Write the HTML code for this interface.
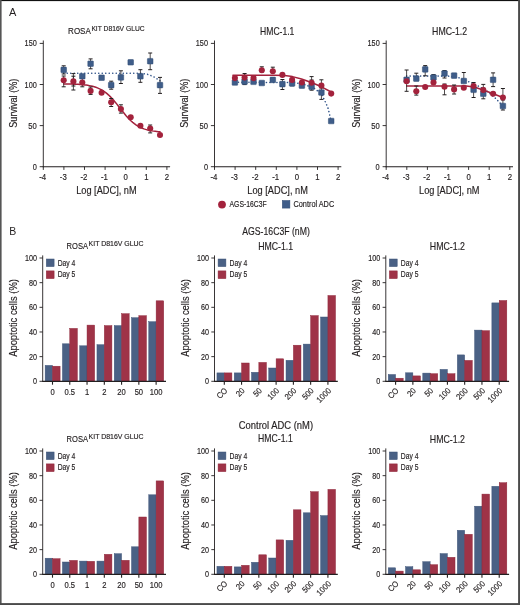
<!DOCTYPE html>
<html><head><meta charset="utf-8"><style>
html,body{margin:0;padding:0;background:#fff;}
svg{display:block;font-family:"Liberation Sans", sans-serif;will-change:transform;}
</style></head><body>
<svg width="520" height="605" viewBox="0 0 520 605">
<rect width="520" height="605" fill="#fff"/>
<text x="9" y="15.9" font-size="11" fill="#231f20">A</text>
<line x1="43.30" y1="40.50" x2="43.30" y2="167.20" stroke="#231f20" stroke-width="0.9" />
<line x1="39.70" y1="166.70" x2="43.30" y2="166.70" stroke="#231f20" stroke-width="0.9" />
<text x="36.80" y="169.70" font-size="8.64" text-anchor="end" textLength="4.1" lengthAdjust="spacingAndGlyphs" fill="#231f20" stroke="#231f20" stroke-width="0.16" >0</text>
<line x1="39.70" y1="125.60" x2="43.30" y2="125.60" stroke="#231f20" stroke-width="0.9" />
<text x="36.80" y="128.60" font-size="8.64" text-anchor="end" textLength="8.5" lengthAdjust="spacingAndGlyphs" fill="#231f20" stroke="#231f20" stroke-width="0.16" >50</text>
<line x1="39.70" y1="84.50" x2="43.30" y2="84.50" stroke="#231f20" stroke-width="0.9" />
<text x="36.80" y="87.50" font-size="8.64" text-anchor="end" textLength="12.2" lengthAdjust="spacingAndGlyphs" fill="#231f20" stroke="#231f20" stroke-width="0.16" >100</text>
<line x1="39.70" y1="43.40" x2="43.30" y2="43.40" stroke="#231f20" stroke-width="0.9" />
<text x="36.80" y="46.40" font-size="8.64" text-anchor="end" textLength="12.2" lengthAdjust="spacingAndGlyphs" fill="#231f20" stroke="#231f20" stroke-width="0.16" >150</text>
<line x1="42.85" y1="166.70" x2="170.10" y2="166.70" stroke="#231f20" stroke-width="1.05" />
<line x1="43.30" y1="166.70" x2="43.30" y2="169.90" stroke="#231f20" stroke-width="0.9" />
<text x="42.70" y="180.30" font-size="8.42" text-anchor="middle" textLength="6.94" lengthAdjust="spacingAndGlyphs" fill="#231f20" stroke="#231f20" stroke-width="0.16" >-4</text>
<line x1="63.90" y1="166.70" x2="63.90" y2="169.90" stroke="#231f20" stroke-width="0.9" />
<text x="63.30" y="180.30" font-size="8.42" text-anchor="middle" textLength="6.94" lengthAdjust="spacingAndGlyphs" fill="#231f20" stroke="#231f20" stroke-width="0.16" >-3</text>
<line x1="84.50" y1="166.70" x2="84.50" y2="169.90" stroke="#231f20" stroke-width="0.9" />
<text x="83.90" y="180.30" font-size="8.42" text-anchor="middle" textLength="6.94" lengthAdjust="spacingAndGlyphs" fill="#231f20" stroke="#231f20" stroke-width="0.16" >-2</text>
<line x1="105.10" y1="166.70" x2="105.10" y2="169.90" stroke="#231f20" stroke-width="0.9" />
<text x="104.50" y="180.30" font-size="8.42" text-anchor="middle" textLength="6.94" lengthAdjust="spacingAndGlyphs" fill="#231f20" stroke="#231f20" stroke-width="0.16" >-1</text>
<line x1="125.70" y1="166.70" x2="125.70" y2="169.90" stroke="#231f20" stroke-width="0.9" />
<text x="125.70" y="180.30" font-size="8.42" text-anchor="middle" textLength="4.34" lengthAdjust="spacingAndGlyphs" fill="#231f20" stroke="#231f20" stroke-width="0.16" >0</text>
<line x1="146.30" y1="166.70" x2="146.30" y2="169.90" stroke="#231f20" stroke-width="0.9" />
<text x="146.30" y="180.30" font-size="8.42" text-anchor="middle" textLength="4.34" lengthAdjust="spacingAndGlyphs" fill="#231f20" stroke="#231f20" stroke-width="0.16" >1</text>
<line x1="166.90" y1="166.70" x2="166.90" y2="169.90" stroke="#231f20" stroke-width="0.9" />
<text x="166.90" y="180.30" font-size="8.42" text-anchor="middle" textLength="4.34" lengthAdjust="spacingAndGlyphs" fill="#231f20" stroke="#231f20" stroke-width="0.16" >2</text>
<text x="106.40" y="194.20" font-size="10.15" text-anchor="middle" textLength="60.5" lengthAdjust="spacingAndGlyphs" fill="#231f20" stroke="#231f20" stroke-width="0.16" >Log [ADC], nM</text>
<text transform="translate(16.80,103.2) rotate(-90)" x="0" y="0" font-size="10.0" text-anchor="middle" textLength="49" lengthAdjust="spacingAndGlyphs" fill="#231f20" stroke="#231f20" stroke-width="0.16">Survival (%)</text>
<text x="68.10" y="34.40" font-size="9.61" text-anchor="start" textLength="22.7" lengthAdjust="spacingAndGlyphs" fill="#231f20" stroke="#231f20" stroke-width="0.16" >ROSA</text>
<text x="91.40" y="31.40" font-size="7.45" text-anchor="start" textLength="53.2" lengthAdjust="spacingAndGlyphs" fill="#231f20" stroke="#231f20" stroke-width="0.16" >KIT D816V GLUC</text>
<polyline points="63.70,73.30 140.30,73.30 147.30,74.20 153.30,76.50 160.00,80.80" fill="none" stroke="#2f5289" stroke-width="1.55" stroke-dasharray="0.1 3.4" stroke-linecap="round" stroke-linejoin="round"/>
<polyline points="63.70,83.88 65.30,83.90 66.91,83.93 68.52,83.96 70.12,84.00 71.72,84.05 73.33,84.11 74.94,84.17 76.54,84.25 78.14,84.34 79.75,84.44 81.36,84.57 82.96,84.72 84.56,84.89 86.17,85.10 87.78,85.34 89.38,85.62 90.98,85.95 92.59,86.33 94.19,86.77 95.80,87.29 97.41,87.89 99.01,88.57 100.61,89.36 102.22,90.25 103.83,91.26 105.43,92.40 107.03,93.67 108.64,95.07 110.25,96.61 111.85,98.27 113.45,100.05 115.06,101.93 116.67,103.89 118.27,105.91 119.88,107.96 121.48,110.02 123.09,112.05 124.69,114.02 126.30,115.92 127.90,117.71 129.50,119.39 131.11,120.95 132.72,122.37 134.32,123.66 135.93,124.82 137.53,125.85 139.13,126.76 140.74,127.56 142.34,128.26 143.95,128.87 145.56,129.40 147.16,129.86 148.77,130.25 150.37,130.58 151.98,130.87 153.58,131.12 155.19,131.33 156.79,131.51 158.40,131.66 160.00,131.79" fill="none" stroke="#a3223c" stroke-width="1.5" stroke-linecap="round" stroke-linejoin="round"/>
<line x1="63.70" y1="65.80" x2="63.70" y2="74.00" stroke="#231f20" stroke-width="0.8" />
<line x1="61.70" y1="65.80" x2="65.70" y2="65.80" stroke="#231f20" stroke-width="1.0" />
<line x1="61.70" y1="74.00" x2="65.70" y2="74.00" stroke="#231f20" stroke-width="1.0" />
<line x1="73.40" y1="73.60" x2="73.40" y2="86.00" stroke="#231f20" stroke-width="0.8" />
<line x1="71.40" y1="73.60" x2="75.40" y2="73.60" stroke="#231f20" stroke-width="1.0" />
<line x1="71.40" y1="86.00" x2="75.40" y2="86.00" stroke="#231f20" stroke-width="1.0" />
<line x1="90.60" y1="58.90" x2="90.60" y2="68.80" stroke="#231f20" stroke-width="0.8" />
<line x1="88.60" y1="58.90" x2="92.60" y2="58.90" stroke="#231f20" stroke-width="1.0" />
<line x1="88.60" y1="68.80" x2="92.60" y2="68.80" stroke="#231f20" stroke-width="1.0" />
<line x1="111.20" y1="81.20" x2="111.20" y2="89.20" stroke="#231f20" stroke-width="0.8" />
<line x1="109.20" y1="81.20" x2="113.20" y2="81.20" stroke="#231f20" stroke-width="1.0" />
<line x1="109.20" y1="89.20" x2="113.20" y2="89.20" stroke="#231f20" stroke-width="1.0" />
<line x1="120.90" y1="70.80" x2="120.90" y2="83.50" stroke="#231f20" stroke-width="0.8" />
<line x1="118.90" y1="70.80" x2="122.90" y2="70.80" stroke="#231f20" stroke-width="1.0" />
<line x1="118.90" y1="83.50" x2="122.90" y2="83.50" stroke="#231f20" stroke-width="1.0" />
<line x1="140.40" y1="69.70" x2="140.40" y2="82.30" stroke="#231f20" stroke-width="0.8" />
<line x1="138.40" y1="69.70" x2="142.40" y2="69.70" stroke="#231f20" stroke-width="1.0" />
<line x1="138.40" y1="82.30" x2="142.40" y2="82.30" stroke="#231f20" stroke-width="1.0" />
<line x1="150.20" y1="53.00" x2="150.20" y2="69.70" stroke="#231f20" stroke-width="0.8" />
<line x1="148.20" y1="53.00" x2="152.20" y2="53.00" stroke="#231f20" stroke-width="1.0" />
<line x1="148.20" y1="69.70" x2="152.20" y2="69.70" stroke="#231f20" stroke-width="1.0" />
<line x1="160.00" y1="77.40" x2="160.00" y2="93.40" stroke="#231f20" stroke-width="0.8" />
<line x1="158.00" y1="77.40" x2="162.00" y2="77.40" stroke="#231f20" stroke-width="1.0" />
<line x1="158.00" y1="93.40" x2="162.00" y2="93.40" stroke="#231f20" stroke-width="1.0" />
<line x1="63.70" y1="76.00" x2="63.70" y2="86.80" stroke="#231f20" stroke-width="0.8" />
<line x1="61.70" y1="76.00" x2="65.70" y2="76.00" stroke="#231f20" stroke-width="1.0" />
<line x1="61.70" y1="86.80" x2="65.70" y2="86.80" stroke="#231f20" stroke-width="1.0" />
<line x1="73.40" y1="76.20" x2="73.40" y2="90.00" stroke="#231f20" stroke-width="0.8" />
<line x1="71.40" y1="76.20" x2="75.40" y2="76.20" stroke="#231f20" stroke-width="1.0" />
<line x1="71.40" y1="90.00" x2="75.40" y2="90.00" stroke="#231f20" stroke-width="1.0" />
<line x1="82.30" y1="78.00" x2="82.30" y2="86.80" stroke="#231f20" stroke-width="0.8" />
<line x1="80.30" y1="78.00" x2="84.30" y2="78.00" stroke="#231f20" stroke-width="1.0" />
<line x1="80.30" y1="86.80" x2="84.30" y2="86.80" stroke="#231f20" stroke-width="1.0" />
<line x1="90.60" y1="87.00" x2="90.60" y2="94.40" stroke="#231f20" stroke-width="0.8" />
<line x1="88.60" y1="87.00" x2="92.60" y2="87.00" stroke="#231f20" stroke-width="1.0" />
<line x1="88.60" y1="94.40" x2="92.60" y2="94.40" stroke="#231f20" stroke-width="1.0" />
<line x1="111.20" y1="98.50" x2="111.20" y2="106.50" stroke="#231f20" stroke-width="0.8" />
<line x1="109.20" y1="98.50" x2="113.20" y2="98.50" stroke="#231f20" stroke-width="1.0" />
<line x1="109.20" y1="106.50" x2="113.20" y2="106.50" stroke="#231f20" stroke-width="1.0" />
<line x1="120.90" y1="104.80" x2="120.90" y2="113.10" stroke="#231f20" stroke-width="0.8" />
<line x1="118.90" y1="104.80" x2="122.90" y2="104.80" stroke="#231f20" stroke-width="1.0" />
<line x1="118.90" y1="113.10" x2="122.90" y2="113.10" stroke="#231f20" stroke-width="1.0" />
<line x1="150.20" y1="125.00" x2="150.20" y2="132.90" stroke="#231f20" stroke-width="0.8" />
<line x1="148.20" y1="125.00" x2="152.20" y2="125.00" stroke="#231f20" stroke-width="1.0" />
<line x1="148.20" y1="132.90" x2="152.20" y2="132.90" stroke="#231f20" stroke-width="1.0" />
<rect x="60.90" y="67.10" width="5.6" height="5.6" rx="0.6" fill="#3f5d89" stroke="#2f4a73" stroke-width="0.5"/>
<rect x="79.50" y="73.40" width="5.6" height="5.6" rx="0.6" fill="#3f5d89" stroke="#2f4a73" stroke-width="0.5"/>
<rect x="87.80" y="60.90" width="5.6" height="5.6" rx="0.6" fill="#3f5d89" stroke="#2f4a73" stroke-width="0.5"/>
<rect x="98.80" y="74.90" width="5.6" height="5.6" rx="0.6" fill="#3f5d89" stroke="#2f4a73" stroke-width="0.5"/>
<rect x="108.40" y="82.30" width="5.6" height="5.6" rx="0.6" fill="#3f5d89" stroke="#2f4a73" stroke-width="0.5"/>
<rect x="118.10" y="74.60" width="5.6" height="5.6" rx="0.6" fill="#3f5d89" stroke="#2f4a73" stroke-width="0.5"/>
<rect x="127.90" y="59.50" width="5.6" height="5.6" rx="0.6" fill="#3f5d89" stroke="#2f4a73" stroke-width="0.5"/>
<rect x="137.60" y="73.50" width="5.6" height="5.6" rx="0.6" fill="#3f5d89" stroke="#2f4a73" stroke-width="0.5"/>
<rect x="147.40" y="58.40" width="5.6" height="5.6" rx="0.6" fill="#3f5d89" stroke="#2f4a73" stroke-width="0.5"/>
<rect x="157.20" y="82.30" width="5.6" height="5.6" rx="0.6" fill="#3f5d89" stroke="#2f4a73" stroke-width="0.5"/>
<circle cx="63.70" cy="80.30" r="3.05" fill="#a3223c"/>
<circle cx="73.40" cy="81.40" r="3.05" fill="#a3223c"/>
<circle cx="82.30" cy="82.50" r="3.05" fill="#a3223c"/>
<circle cx="90.60" cy="90.90" r="3.05" fill="#a3223c"/>
<circle cx="101.60" cy="92.70" r="3.05" fill="#a3223c"/>
<circle cx="111.20" cy="102.30" r="3.05" fill="#a3223c"/>
<circle cx="120.90" cy="109.10" r="3.05" fill="#a3223c"/>
<circle cx="130.70" cy="117.30" r="3.05" fill="#a3223c"/>
<circle cx="140.40" cy="125.80" r="3.05" fill="#a3223c"/>
<circle cx="150.20" cy="128.50" r="3.05" fill="#a3223c"/>
<circle cx="160.00" cy="135.00" r="3.05" fill="#a3223c"/>
<line x1="214.50" y1="40.50" x2="214.50" y2="167.20" stroke="#231f20" stroke-width="0.9" />
<line x1="210.90" y1="166.70" x2="214.50" y2="166.70" stroke="#231f20" stroke-width="0.9" />
<text x="208.00" y="169.70" font-size="8.64" text-anchor="end" textLength="4.1" lengthAdjust="spacingAndGlyphs" fill="#231f20" stroke="#231f20" stroke-width="0.16" >0</text>
<line x1="210.90" y1="125.60" x2="214.50" y2="125.60" stroke="#231f20" stroke-width="0.9" />
<text x="208.00" y="128.60" font-size="8.64" text-anchor="end" textLength="8.5" lengthAdjust="spacingAndGlyphs" fill="#231f20" stroke="#231f20" stroke-width="0.16" >50</text>
<line x1="210.90" y1="84.50" x2="214.50" y2="84.50" stroke="#231f20" stroke-width="0.9" />
<text x="208.00" y="87.50" font-size="8.64" text-anchor="end" textLength="12.2" lengthAdjust="spacingAndGlyphs" fill="#231f20" stroke="#231f20" stroke-width="0.16" >100</text>
<line x1="210.90" y1="43.40" x2="214.50" y2="43.40" stroke="#231f20" stroke-width="0.9" />
<text x="208.00" y="46.40" font-size="8.64" text-anchor="end" textLength="12.2" lengthAdjust="spacingAndGlyphs" fill="#231f20" stroke="#231f20" stroke-width="0.16" >150</text>
<line x1="214.05" y1="166.70" x2="341.30" y2="166.70" stroke="#231f20" stroke-width="1.05" />
<line x1="214.50" y1="166.70" x2="214.50" y2="169.90" stroke="#231f20" stroke-width="0.9" />
<text x="213.90" y="180.30" font-size="8.42" text-anchor="middle" textLength="6.94" lengthAdjust="spacingAndGlyphs" fill="#231f20" stroke="#231f20" stroke-width="0.16" >-4</text>
<line x1="235.10" y1="166.70" x2="235.10" y2="169.90" stroke="#231f20" stroke-width="0.9" />
<text x="234.50" y="180.30" font-size="8.42" text-anchor="middle" textLength="6.94" lengthAdjust="spacingAndGlyphs" fill="#231f20" stroke="#231f20" stroke-width="0.16" >-3</text>
<line x1="255.70" y1="166.70" x2="255.70" y2="169.90" stroke="#231f20" stroke-width="0.9" />
<text x="255.10" y="180.30" font-size="8.42" text-anchor="middle" textLength="6.94" lengthAdjust="spacingAndGlyphs" fill="#231f20" stroke="#231f20" stroke-width="0.16" >-2</text>
<line x1="276.30" y1="166.70" x2="276.30" y2="169.90" stroke="#231f20" stroke-width="0.9" />
<text x="275.70" y="180.30" font-size="8.42" text-anchor="middle" textLength="6.94" lengthAdjust="spacingAndGlyphs" fill="#231f20" stroke="#231f20" stroke-width="0.16" >-1</text>
<line x1="296.90" y1="166.70" x2="296.90" y2="169.90" stroke="#231f20" stroke-width="0.9" />
<text x="296.90" y="180.30" font-size="8.42" text-anchor="middle" textLength="4.34" lengthAdjust="spacingAndGlyphs" fill="#231f20" stroke="#231f20" stroke-width="0.16" >0</text>
<line x1="317.50" y1="166.70" x2="317.50" y2="169.90" stroke="#231f20" stroke-width="0.9" />
<text x="317.50" y="180.30" font-size="8.42" text-anchor="middle" textLength="4.34" lengthAdjust="spacingAndGlyphs" fill="#231f20" stroke="#231f20" stroke-width="0.16" >1</text>
<line x1="338.10" y1="166.70" x2="338.10" y2="169.90" stroke="#231f20" stroke-width="0.9" />
<text x="338.10" y="180.30" font-size="8.42" text-anchor="middle" textLength="4.34" lengthAdjust="spacingAndGlyphs" fill="#231f20" stroke="#231f20" stroke-width="0.16" >2</text>
<text x="277.60" y="194.20" font-size="10.15" text-anchor="middle" textLength="60.5" lengthAdjust="spacingAndGlyphs" fill="#231f20" stroke="#231f20" stroke-width="0.16" >Log [ADC], nM</text>
<text transform="translate(188.00,103.2) rotate(-90)" x="0" y="0" font-size="10.0" text-anchor="middle" textLength="49" lengthAdjust="spacingAndGlyphs" fill="#231f20" stroke="#231f20" stroke-width="0.16">Survival (%)</text>
<text x="260.10" y="34.50" font-size="10.15" text-anchor="start" textLength="34.3" lengthAdjust="spacingAndGlyphs" fill="#231f20" stroke="#231f20" stroke-width="0.16" >HMC-1.1</text>
<polyline points="234.90,82.30 294.50,82.50 304.50,84.50 314.50,88.50 321.40,94.00 324.50,100.00 328.00,108.00 331.20,121.00" fill="none" stroke="#2f5289" stroke-width="1.55" stroke-dasharray="0.1 3.4" stroke-linecap="round" stroke-linejoin="round"/>
<polyline points="232.90,75.30 274.50,75.30 284.50,75.60 292.50,76.60 301.50,79.00 311.50,82.50 321.50,86.80 331.20,92.00" fill="none" stroke="#a3223c" stroke-width="1.5" stroke-linecap="round" stroke-linejoin="round"/>
<line x1="244.60" y1="76.00" x2="244.60" y2="84.60" stroke="#231f20" stroke-width="0.8" />
<line x1="242.60" y1="76.00" x2="246.60" y2="76.00" stroke="#231f20" stroke-width="1.0" />
<line x1="242.60" y1="84.60" x2="246.60" y2="84.60" stroke="#231f20" stroke-width="1.0" />
<line x1="282.40" y1="79.50" x2="282.40" y2="89.50" stroke="#231f20" stroke-width="0.8" />
<line x1="280.40" y1="79.50" x2="284.40" y2="79.50" stroke="#231f20" stroke-width="1.0" />
<line x1="280.40" y1="89.50" x2="284.40" y2="89.50" stroke="#231f20" stroke-width="1.0" />
<line x1="292.10" y1="80.00" x2="292.10" y2="85.80" stroke="#231f20" stroke-width="0.8" />
<line x1="290.10" y1="80.00" x2="294.10" y2="80.00" stroke="#231f20" stroke-width="1.0" />
<line x1="290.10" y1="85.80" x2="294.10" y2="85.80" stroke="#231f20" stroke-width="1.0" />
<line x1="311.60" y1="80.00" x2="311.60" y2="90.20" stroke="#231f20" stroke-width="0.8" />
<line x1="309.60" y1="80.00" x2="313.60" y2="80.00" stroke="#231f20" stroke-width="1.0" />
<line x1="309.60" y1="90.20" x2="313.60" y2="90.20" stroke="#231f20" stroke-width="1.0" />
<line x1="321.40" y1="88.00" x2="321.40" y2="99.40" stroke="#231f20" stroke-width="0.8" />
<line x1="319.40" y1="88.00" x2="323.40" y2="88.00" stroke="#231f20" stroke-width="1.0" />
<line x1="319.40" y1="99.40" x2="323.40" y2="99.40" stroke="#231f20" stroke-width="1.0" />
<line x1="244.60" y1="73.50" x2="244.60" y2="80.00" stroke="#231f20" stroke-width="0.8" />
<line x1="242.60" y1="73.50" x2="246.60" y2="73.50" stroke="#231f20" stroke-width="1.0" />
<line x1="242.60" y1="80.00" x2="246.60" y2="80.00" stroke="#231f20" stroke-width="1.0" />
<line x1="261.80" y1="66.80" x2="261.80" y2="72.00" stroke="#231f20" stroke-width="0.8" />
<line x1="259.80" y1="66.80" x2="263.80" y2="66.80" stroke="#231f20" stroke-width="1.0" />
<line x1="259.80" y1="72.00" x2="263.80" y2="72.00" stroke="#231f20" stroke-width="1.0" />
<line x1="272.80" y1="67.20" x2="272.80" y2="72.00" stroke="#231f20" stroke-width="0.8" />
<line x1="270.80" y1="67.20" x2="274.80" y2="67.20" stroke="#231f20" stroke-width="1.0" />
<line x1="270.80" y1="72.00" x2="274.80" y2="72.00" stroke="#231f20" stroke-width="1.0" />
<line x1="311.60" y1="76.60" x2="311.60" y2="83.00" stroke="#231f20" stroke-width="0.8" />
<line x1="309.60" y1="76.60" x2="313.60" y2="76.60" stroke="#231f20" stroke-width="1.0" />
<line x1="309.60" y1="83.00" x2="313.60" y2="83.00" stroke="#231f20" stroke-width="1.0" />
<line x1="321.40" y1="79.80" x2="321.40" y2="86.00" stroke="#231f20" stroke-width="0.8" />
<line x1="319.40" y1="79.80" x2="323.40" y2="79.80" stroke="#231f20" stroke-width="1.0" />
<line x1="319.40" y1="86.00" x2="323.40" y2="86.00" stroke="#231f20" stroke-width="1.0" />
<rect x="232.10" y="79.70" width="5.6" height="5.6" rx="0.6" fill="#3f5d89" stroke="#2f4a73" stroke-width="0.5"/>
<rect x="241.80" y="78.80" width="5.6" height="5.6" rx="0.6" fill="#3f5d89" stroke="#2f4a73" stroke-width="0.5"/>
<rect x="250.70" y="79.00" width="5.6" height="5.6" rx="0.6" fill="#3f5d89" stroke="#2f4a73" stroke-width="0.5"/>
<rect x="259.00" y="80.20" width="5.6" height="5.6" rx="0.6" fill="#3f5d89" stroke="#2f4a73" stroke-width="0.5"/>
<rect x="270.00" y="77.10" width="5.6" height="5.6" rx="0.6" fill="#3f5d89" stroke="#2f4a73" stroke-width="0.5"/>
<rect x="279.60" y="81.30" width="5.6" height="5.6" rx="0.6" fill="#3f5d89" stroke="#2f4a73" stroke-width="0.5"/>
<rect x="289.30" y="80.60" width="5.6" height="5.6" rx="0.6" fill="#3f5d89" stroke="#2f4a73" stroke-width="0.5"/>
<rect x="299.10" y="82.80" width="5.6" height="5.6" rx="0.6" fill="#3f5d89" stroke="#2f4a73" stroke-width="0.5"/>
<rect x="308.80" y="83.90" width="5.6" height="5.6" rx="0.6" fill="#3f5d89" stroke="#2f4a73" stroke-width="0.5"/>
<rect x="318.60" y="89.70" width="5.6" height="5.6" rx="0.6" fill="#3f5d89" stroke="#2f4a73" stroke-width="0.5"/>
<rect x="328.40" y="118.20" width="5.6" height="5.6" rx="0.6" fill="#3f5d89" stroke="#2f4a73" stroke-width="0.5"/>
<circle cx="234.90" cy="78.10" r="3.05" fill="#a3223c"/>
<circle cx="244.60" cy="77.60" r="3.05" fill="#a3223c"/>
<circle cx="253.50" cy="78.10" r="3.05" fill="#a3223c"/>
<circle cx="261.80" cy="70.30" r="3.05" fill="#a3223c"/>
<circle cx="272.80" cy="71.20" r="3.05" fill="#a3223c"/>
<circle cx="282.40" cy="74.90" r="3.05" fill="#a3223c"/>
<circle cx="292.10" cy="79.90" r="3.05" fill="#a3223c"/>
<circle cx="301.90" cy="82.50" r="3.05" fill="#a3223c"/>
<circle cx="311.60" cy="82.70" r="3.05" fill="#a3223c"/>
<circle cx="321.40" cy="85.60" r="3.05" fill="#a3223c"/>
<circle cx="331.20" cy="93.60" r="3.05" fill="#a3223c"/>
<line x1="386.20" y1="40.50" x2="386.20" y2="167.20" stroke="#231f20" stroke-width="0.9" />
<line x1="382.60" y1="166.70" x2="386.20" y2="166.70" stroke="#231f20" stroke-width="0.9" />
<text x="379.70" y="169.70" font-size="8.64" text-anchor="end" textLength="4.1" lengthAdjust="spacingAndGlyphs" fill="#231f20" stroke="#231f20" stroke-width="0.16" >0</text>
<line x1="382.60" y1="125.60" x2="386.20" y2="125.60" stroke="#231f20" stroke-width="0.9" />
<text x="379.70" y="128.60" font-size="8.64" text-anchor="end" textLength="8.5" lengthAdjust="spacingAndGlyphs" fill="#231f20" stroke="#231f20" stroke-width="0.16" >50</text>
<line x1="382.60" y1="84.50" x2="386.20" y2="84.50" stroke="#231f20" stroke-width="0.9" />
<text x="379.70" y="87.50" font-size="8.64" text-anchor="end" textLength="12.2" lengthAdjust="spacingAndGlyphs" fill="#231f20" stroke="#231f20" stroke-width="0.16" >100</text>
<line x1="382.60" y1="43.40" x2="386.20" y2="43.40" stroke="#231f20" stroke-width="0.9" />
<text x="379.70" y="46.40" font-size="8.64" text-anchor="end" textLength="12.2" lengthAdjust="spacingAndGlyphs" fill="#231f20" stroke="#231f20" stroke-width="0.16" >150</text>
<line x1="385.75" y1="166.70" x2="513.00" y2="166.70" stroke="#231f20" stroke-width="1.05" />
<line x1="386.20" y1="166.70" x2="386.20" y2="169.90" stroke="#231f20" stroke-width="0.9" />
<text x="385.60" y="180.30" font-size="8.42" text-anchor="middle" textLength="6.94" lengthAdjust="spacingAndGlyphs" fill="#231f20" stroke="#231f20" stroke-width="0.16" >-4</text>
<line x1="406.80" y1="166.70" x2="406.80" y2="169.90" stroke="#231f20" stroke-width="0.9" />
<text x="406.20" y="180.30" font-size="8.42" text-anchor="middle" textLength="6.94" lengthAdjust="spacingAndGlyphs" fill="#231f20" stroke="#231f20" stroke-width="0.16" >-3</text>
<line x1="427.40" y1="166.70" x2="427.40" y2="169.90" stroke="#231f20" stroke-width="0.9" />
<text x="426.80" y="180.30" font-size="8.42" text-anchor="middle" textLength="6.94" lengthAdjust="spacingAndGlyphs" fill="#231f20" stroke="#231f20" stroke-width="0.16" >-2</text>
<line x1="448.00" y1="166.70" x2="448.00" y2="169.90" stroke="#231f20" stroke-width="0.9" />
<text x="447.40" y="180.30" font-size="8.42" text-anchor="middle" textLength="6.94" lengthAdjust="spacingAndGlyphs" fill="#231f20" stroke="#231f20" stroke-width="0.16" >-1</text>
<line x1="468.60" y1="166.70" x2="468.60" y2="169.90" stroke="#231f20" stroke-width="0.9" />
<text x="468.60" y="180.30" font-size="8.42" text-anchor="middle" textLength="4.34" lengthAdjust="spacingAndGlyphs" fill="#231f20" stroke="#231f20" stroke-width="0.16" >0</text>
<line x1="489.20" y1="166.70" x2="489.20" y2="169.90" stroke="#231f20" stroke-width="0.9" />
<text x="489.20" y="180.30" font-size="8.42" text-anchor="middle" textLength="4.34" lengthAdjust="spacingAndGlyphs" fill="#231f20" stroke="#231f20" stroke-width="0.16" >1</text>
<line x1="509.80" y1="166.70" x2="509.80" y2="169.90" stroke="#231f20" stroke-width="0.9" />
<text x="509.80" y="180.30" font-size="8.42" text-anchor="middle" textLength="4.34" lengthAdjust="spacingAndGlyphs" fill="#231f20" stroke="#231f20" stroke-width="0.16" >2</text>
<text x="449.30" y="194.20" font-size="10.15" text-anchor="middle" textLength="60.5" lengthAdjust="spacingAndGlyphs" fill="#231f20" stroke="#231f20" stroke-width="0.16" >Log [ADC], nM</text>
<text transform="translate(359.70,103.2) rotate(-90)" x="0" y="0" font-size="10.0" text-anchor="middle" textLength="49" lengthAdjust="spacingAndGlyphs" fill="#231f20" stroke="#231f20" stroke-width="0.16">Survival (%)</text>
<text x="432.10" y="34.50" font-size="10.15" text-anchor="start" textLength="35.0" lengthAdjust="spacingAndGlyphs" fill="#231f20" stroke="#231f20" stroke-width="0.16" >HMC-1.2</text>
<polyline points="406.60,76.10 448.20,76.10 458.20,77.50 468.20,81.50 478.20,86.00 488.20,92.00 496.20,99.00 502.90,106.00" fill="none" stroke="#2f5289" stroke-width="1.55" stroke-dasharray="0.1 3.4" stroke-linecap="round" stroke-linejoin="round"/>
<polyline points="406.60,86.00 466.20,86.00 474.20,87.00 483.20,90.00 493.20,93.80 502.90,97.50" fill="none" stroke="#a3223c" stroke-width="1.5" stroke-linecap="round" stroke-linejoin="round"/>
<line x1="406.60" y1="70.00" x2="406.60" y2="80.00" stroke="#231f20" stroke-width="0.8" />
<line x1="404.60" y1="70.00" x2="408.60" y2="70.00" stroke="#231f20" stroke-width="1.0" />
<line x1="404.60" y1="80.00" x2="408.60" y2="80.00" stroke="#231f20" stroke-width="1.0" />
<line x1="416.30" y1="73.20" x2="416.30" y2="80.00" stroke="#231f20" stroke-width="0.8" />
<line x1="414.30" y1="73.20" x2="418.30" y2="73.20" stroke="#231f20" stroke-width="1.0" />
<line x1="414.30" y1="80.00" x2="418.30" y2="80.00" stroke="#231f20" stroke-width="1.0" />
<line x1="425.20" y1="65.60" x2="425.20" y2="75.80" stroke="#231f20" stroke-width="0.8" />
<line x1="423.20" y1="65.60" x2="427.20" y2="65.60" stroke="#231f20" stroke-width="1.0" />
<line x1="423.20" y1="75.80" x2="427.20" y2="75.80" stroke="#231f20" stroke-width="1.0" />
<line x1="433.50" y1="74.60" x2="433.50" y2="80.00" stroke="#231f20" stroke-width="0.8" />
<line x1="431.50" y1="74.60" x2="435.50" y2="74.60" stroke="#231f20" stroke-width="1.0" />
<line x1="431.50" y1="80.00" x2="435.50" y2="80.00" stroke="#231f20" stroke-width="1.0" />
<line x1="444.50" y1="70.60" x2="444.50" y2="78.00" stroke="#231f20" stroke-width="0.8" />
<line x1="442.50" y1="70.60" x2="446.50" y2="70.60" stroke="#231f20" stroke-width="1.0" />
<line x1="442.50" y1="78.00" x2="446.50" y2="78.00" stroke="#231f20" stroke-width="1.0" />
<line x1="463.80" y1="72.50" x2="463.80" y2="82.00" stroke="#231f20" stroke-width="0.8" />
<line x1="461.80" y1="72.50" x2="465.80" y2="72.50" stroke="#231f20" stroke-width="1.0" />
<line x1="461.80" y1="82.00" x2="465.80" y2="82.00" stroke="#231f20" stroke-width="1.0" />
<line x1="473.60" y1="86.00" x2="473.60" y2="97.50" stroke="#231f20" stroke-width="0.8" />
<line x1="471.60" y1="86.00" x2="475.60" y2="86.00" stroke="#231f20" stroke-width="1.0" />
<line x1="471.60" y1="97.50" x2="475.60" y2="97.50" stroke="#231f20" stroke-width="1.0" />
<line x1="483.30" y1="88.00" x2="483.30" y2="98.80" stroke="#231f20" stroke-width="0.8" />
<line x1="481.30" y1="88.00" x2="485.30" y2="88.00" stroke="#231f20" stroke-width="1.0" />
<line x1="481.30" y1="98.80" x2="485.30" y2="98.80" stroke="#231f20" stroke-width="1.0" />
<line x1="493.10" y1="72.90" x2="493.10" y2="86.60" stroke="#231f20" stroke-width="0.8" />
<line x1="491.10" y1="72.90" x2="495.10" y2="72.90" stroke="#231f20" stroke-width="1.0" />
<line x1="491.10" y1="86.60" x2="495.10" y2="86.60" stroke="#231f20" stroke-width="1.0" />
<line x1="502.90" y1="100.00" x2="502.90" y2="110.00" stroke="#231f20" stroke-width="0.8" />
<line x1="500.90" y1="100.00" x2="504.90" y2="100.00" stroke="#231f20" stroke-width="1.0" />
<line x1="500.90" y1="110.00" x2="504.90" y2="110.00" stroke="#231f20" stroke-width="1.0" />
<line x1="406.60" y1="80.00" x2="406.60" y2="91.30" stroke="#231f20" stroke-width="0.8" />
<line x1="404.60" y1="80.00" x2="408.60" y2="80.00" stroke="#231f20" stroke-width="1.0" />
<line x1="404.60" y1="91.30" x2="408.60" y2="91.30" stroke="#231f20" stroke-width="1.0" />
<line x1="416.30" y1="86.00" x2="416.30" y2="95.10" stroke="#231f20" stroke-width="0.8" />
<line x1="414.30" y1="86.00" x2="418.30" y2="86.00" stroke="#231f20" stroke-width="1.0" />
<line x1="414.30" y1="95.10" x2="418.30" y2="95.10" stroke="#231f20" stroke-width="1.0" />
<line x1="444.50" y1="84.00" x2="444.50" y2="94.80" stroke="#231f20" stroke-width="0.8" />
<line x1="442.50" y1="84.00" x2="446.50" y2="84.00" stroke="#231f20" stroke-width="1.0" />
<line x1="442.50" y1="94.80" x2="446.50" y2="94.80" stroke="#231f20" stroke-width="1.0" />
<line x1="454.10" y1="85.00" x2="454.10" y2="94.00" stroke="#231f20" stroke-width="0.8" />
<line x1="452.10" y1="85.00" x2="456.10" y2="85.00" stroke="#231f20" stroke-width="1.0" />
<line x1="452.10" y1="94.00" x2="456.10" y2="94.00" stroke="#231f20" stroke-width="1.0" />
<line x1="473.60" y1="82.50" x2="473.60" y2="88.00" stroke="#231f20" stroke-width="0.8" />
<line x1="471.60" y1="82.50" x2="475.60" y2="82.50" stroke="#231f20" stroke-width="1.0" />
<line x1="471.60" y1="88.00" x2="475.60" y2="88.00" stroke="#231f20" stroke-width="1.0" />
<line x1="483.30" y1="84.40" x2="483.30" y2="92.00" stroke="#231f20" stroke-width="0.8" />
<line x1="481.30" y1="84.40" x2="485.30" y2="84.40" stroke="#231f20" stroke-width="1.0" />
<line x1="481.30" y1="92.00" x2="485.30" y2="92.00" stroke="#231f20" stroke-width="1.0" />
<line x1="502.90" y1="88.50" x2="502.90" y2="98.00" stroke="#231f20" stroke-width="0.8" />
<line x1="500.90" y1="88.50" x2="504.90" y2="88.50" stroke="#231f20" stroke-width="1.0" />
<line x1="500.90" y1="98.00" x2="504.90" y2="98.00" stroke="#231f20" stroke-width="1.0" />
<rect x="403.80" y="77.00" width="5.6" height="5.6" rx="0.6" fill="#3f5d89" stroke="#2f4a73" stroke-width="0.5"/>
<rect x="413.50" y="75.80" width="5.6" height="5.6" rx="0.6" fill="#3f5d89" stroke="#2f4a73" stroke-width="0.5"/>
<rect x="422.40" y="66.60" width="5.6" height="5.6" rx="0.6" fill="#3f5d89" stroke="#2f4a73" stroke-width="0.5"/>
<rect x="430.70" y="74.70" width="5.6" height="5.6" rx="0.6" fill="#3f5d89" stroke="#2f4a73" stroke-width="0.5"/>
<rect x="441.70" y="70.70" width="5.6" height="5.6" rx="0.6" fill="#3f5d89" stroke="#2f4a73" stroke-width="0.5"/>
<rect x="451.30" y="72.80" width="5.6" height="5.6" rx="0.6" fill="#3f5d89" stroke="#2f4a73" stroke-width="0.5"/>
<rect x="461.00" y="78.20" width="5.6" height="5.6" rx="0.6" fill="#3f5d89" stroke="#2f4a73" stroke-width="0.5"/>
<rect x="470.80" y="87.00" width="5.6" height="5.6" rx="0.6" fill="#3f5d89" stroke="#2f4a73" stroke-width="0.5"/>
<rect x="480.50" y="91.00" width="5.6" height="5.6" rx="0.6" fill="#3f5d89" stroke="#2f4a73" stroke-width="0.5"/>
<rect x="490.30" y="77.00" width="5.6" height="5.6" rx="0.6" fill="#3f5d89" stroke="#2f4a73" stroke-width="0.5"/>
<rect x="500.10" y="103.20" width="5.6" height="5.6" rx="0.6" fill="#3f5d89" stroke="#2f4a73" stroke-width="0.5"/>
<circle cx="406.60" cy="81.30" r="3.05" fill="#a3223c"/>
<circle cx="416.30" cy="91.30" r="3.05" fill="#a3223c"/>
<circle cx="425.20" cy="87.00" r="3.05" fill="#a3223c"/>
<circle cx="433.50" cy="82.50" r="3.05" fill="#a3223c"/>
<circle cx="444.50" cy="86.70" r="3.05" fill="#a3223c"/>
<circle cx="454.10" cy="89.40" r="3.05" fill="#a3223c"/>
<circle cx="463.80" cy="87.80" r="3.05" fill="#a3223c"/>
<circle cx="473.60" cy="86.00" r="3.05" fill="#a3223c"/>
<circle cx="483.30" cy="90.00" r="3.05" fill="#a3223c"/>
<circle cx="493.10" cy="93.80" r="3.05" fill="#a3223c"/>
<circle cx="502.90" cy="97.50" r="3.05" fill="#a3223c"/>
<circle cx="222" cy="204.6" r="3.9" fill="#a3223c"/>
<text x="229.60" y="207.00" font-size="8.42" text-anchor="start" textLength="37.0" lengthAdjust="spacingAndGlyphs" fill="#231f20" stroke="#231f20" stroke-width="0.16" >AGS-16C3F</text>
<rect x="282.30" y="200.50" width="7.60" height="7.60" fill="#3f5d89" stroke="#2f4a73" stroke-width="0.5"/>
<text x="293.50" y="207.00" font-size="8.42" text-anchor="start" textLength="40.7" lengthAdjust="spacingAndGlyphs" fill="#231f20" stroke="#231f20" stroke-width="0.16" >Control ADC</text>
<text x="9.2" y="235.3" font-size="10.5" fill="#231f20">B</text>
<line x1="42.70" y1="255.40" x2="42.70" y2="381.80" stroke="#231f20" stroke-width="0.9" />
<line x1="39.50" y1="381.30" x2="42.70" y2="381.30" stroke="#231f20" stroke-width="0.9" />
<text x="37.10" y="384.20" font-size="8.21" text-anchor="end" textLength="4.0" lengthAdjust="spacingAndGlyphs" fill="#231f20" stroke="#231f20" stroke-width="0.16" >0</text>
<line x1="39.50" y1="356.64" x2="42.70" y2="356.64" stroke="#231f20" stroke-width="0.9" />
<text x="37.10" y="359.54" font-size="8.21" text-anchor="end" textLength="8.0" lengthAdjust="spacingAndGlyphs" fill="#231f20" stroke="#231f20" stroke-width="0.16" >20</text>
<line x1="39.50" y1="331.98" x2="42.70" y2="331.98" stroke="#231f20" stroke-width="0.9" />
<text x="37.10" y="334.88" font-size="8.21" text-anchor="end" textLength="8.0" lengthAdjust="spacingAndGlyphs" fill="#231f20" stroke="#231f20" stroke-width="0.16" >40</text>
<line x1="39.50" y1="307.32" x2="42.70" y2="307.32" stroke="#231f20" stroke-width="0.9" />
<text x="37.10" y="310.22" font-size="8.21" text-anchor="end" textLength="8.0" lengthAdjust="spacingAndGlyphs" fill="#231f20" stroke="#231f20" stroke-width="0.16" >60</text>
<line x1="39.50" y1="282.66" x2="42.70" y2="282.66" stroke="#231f20" stroke-width="0.9" />
<text x="37.10" y="285.56" font-size="8.21" text-anchor="end" textLength="8.0" lengthAdjust="spacingAndGlyphs" fill="#231f20" stroke="#231f20" stroke-width="0.16" >80</text>
<line x1="39.50" y1="258.00" x2="42.70" y2="258.00" stroke="#231f20" stroke-width="0.9" />
<text x="37.10" y="260.90" font-size="8.21" text-anchor="end" textLength="12.0" lengthAdjust="spacingAndGlyphs" fill="#231f20" stroke="#231f20" stroke-width="0.16" >100</text>
<rect x="45.15" y="365.40" width="7.35" height="15.90" fill="#4a6185" stroke="#3b5175" stroke-width="0.45"/>
<rect x="52.50" y="366.20" width="7.60" height="15.10" fill="#9f3347" stroke="#8d2438" stroke-width="0.45"/>
<rect x="62.42" y="343.80" width="7.35" height="37.50" fill="#4a6185" stroke="#3b5175" stroke-width="0.45"/>
<rect x="69.77" y="328.40" width="7.60" height="52.90" fill="#9f3347" stroke="#8d2438" stroke-width="0.45"/>
<rect x="79.69" y="345.80" width="7.35" height="35.50" fill="#4a6185" stroke="#3b5175" stroke-width="0.45"/>
<rect x="87.04" y="325.10" width="7.60" height="56.20" fill="#9f3347" stroke="#8d2438" stroke-width="0.45"/>
<rect x="96.96" y="344.70" width="7.35" height="36.60" fill="#4a6185" stroke="#3b5175" stroke-width="0.45"/>
<rect x="104.31" y="325.60" width="7.60" height="55.70" fill="#9f3347" stroke="#8d2438" stroke-width="0.45"/>
<rect x="114.23" y="325.60" width="7.35" height="55.70" fill="#4a6185" stroke="#3b5175" stroke-width="0.45"/>
<rect x="121.58" y="313.70" width="7.60" height="67.60" fill="#9f3347" stroke="#8d2438" stroke-width="0.45"/>
<rect x="131.50" y="317.70" width="7.35" height="63.60" fill="#4a6185" stroke="#3b5175" stroke-width="0.45"/>
<rect x="138.85" y="315.70" width="7.60" height="65.60" fill="#9f3347" stroke="#8d2438" stroke-width="0.45"/>
<rect x="148.77" y="321.70" width="7.35" height="59.60" fill="#4a6185" stroke="#3b5175" stroke-width="0.45"/>
<rect x="156.12" y="300.80" width="7.60" height="80.50" fill="#9f3347" stroke="#8d2438" stroke-width="0.45"/>
<line x1="42.25" y1="381.45" x2="166.00" y2="381.45" stroke="#231f20" stroke-width="1.25" />
<line x1="52.50" y1="381.30" x2="52.50" y2="384.70" stroke="#231f20" stroke-width="1.1" />
<text x="52.50" y="395.20" font-size="8.21" text-anchor="middle" textLength="4.23" lengthAdjust="spacingAndGlyphs" fill="#231f20" stroke="#231f20" stroke-width="0.16" >0</text>
<line x1="69.77" y1="381.30" x2="69.77" y2="384.70" stroke="#231f20" stroke-width="1.1" />
<text x="69.77" y="395.20" font-size="8.21" text-anchor="middle" textLength="10.57" lengthAdjust="spacingAndGlyphs" fill="#231f20" stroke="#231f20" stroke-width="0.16" >0.5</text>
<line x1="87.04" y1="381.30" x2="87.04" y2="384.70" stroke="#231f20" stroke-width="1.1" />
<text x="87.04" y="395.20" font-size="8.21" text-anchor="middle" textLength="4.23" lengthAdjust="spacingAndGlyphs" fill="#231f20" stroke="#231f20" stroke-width="0.16" >1</text>
<line x1="104.31" y1="381.30" x2="104.31" y2="384.70" stroke="#231f20" stroke-width="1.1" />
<text x="104.31" y="395.20" font-size="8.21" text-anchor="middle" textLength="4.23" lengthAdjust="spacingAndGlyphs" fill="#231f20" stroke="#231f20" stroke-width="0.16" >2</text>
<line x1="121.58" y1="381.30" x2="121.58" y2="384.70" stroke="#231f20" stroke-width="1.1" />
<text x="121.58" y="395.20" font-size="8.21" text-anchor="middle" textLength="8.45" lengthAdjust="spacingAndGlyphs" fill="#231f20" stroke="#231f20" stroke-width="0.16" >20</text>
<line x1="138.85" y1="381.30" x2="138.85" y2="384.70" stroke="#231f20" stroke-width="1.1" />
<text x="138.85" y="395.20" font-size="8.21" text-anchor="middle" textLength="8.45" lengthAdjust="spacingAndGlyphs" fill="#231f20" stroke="#231f20" stroke-width="0.16" >50</text>
<line x1="156.12" y1="381.30" x2="156.12" y2="384.70" stroke="#231f20" stroke-width="1.1" />
<text x="156.12" y="395.20" font-size="8.21" text-anchor="middle" textLength="12.68" lengthAdjust="spacingAndGlyphs" fill="#231f20" stroke="#231f20" stroke-width="0.16" >100</text>
<rect x="46.30" y="259.00" width="7.80" height="7.60" fill="#4a6185" stroke="#3b5175" stroke-width="0.5"/>
<rect x="46.30" y="270.90" width="7.80" height="7.70" fill="#9f3347" stroke="#8d2438" stroke-width="0.5"/>
<text x="57.70" y="265.70" font-size="8.32" text-anchor="start" textLength="17.7" lengthAdjust="spacingAndGlyphs" fill="#231f20" stroke="#231f20" stroke-width="0.16" >Day 4</text>
<text x="57.70" y="277.30" font-size="8.32" text-anchor="start" textLength="17.7" lengthAdjust="spacingAndGlyphs" fill="#231f20" stroke="#231f20" stroke-width="0.16" >Day 5</text>
<text transform="translate(17.20,318.00) rotate(-90)" font-size="10.0" text-anchor="middle" textLength="77.7" lengthAdjust="spacingAndGlyphs" fill="#231f20" stroke="#231f20" stroke-width="0.16">Apoptotic cells (%)</text>
<line x1="214.50" y1="255.40" x2="214.50" y2="381.80" stroke="#231f20" stroke-width="0.9" />
<line x1="211.30" y1="381.30" x2="214.50" y2="381.30" stroke="#231f20" stroke-width="0.9" />
<text x="208.90" y="384.20" font-size="8.21" text-anchor="end" textLength="4.0" lengthAdjust="spacingAndGlyphs" fill="#231f20" stroke="#231f20" stroke-width="0.16" >0</text>
<line x1="211.30" y1="356.64" x2="214.50" y2="356.64" stroke="#231f20" stroke-width="0.9" />
<text x="208.90" y="359.54" font-size="8.21" text-anchor="end" textLength="8.0" lengthAdjust="spacingAndGlyphs" fill="#231f20" stroke="#231f20" stroke-width="0.16" >20</text>
<line x1="211.30" y1="331.98" x2="214.50" y2="331.98" stroke="#231f20" stroke-width="0.9" />
<text x="208.90" y="334.88" font-size="8.21" text-anchor="end" textLength="8.0" lengthAdjust="spacingAndGlyphs" fill="#231f20" stroke="#231f20" stroke-width="0.16" >40</text>
<line x1="211.30" y1="307.32" x2="214.50" y2="307.32" stroke="#231f20" stroke-width="0.9" />
<text x="208.90" y="310.22" font-size="8.21" text-anchor="end" textLength="8.0" lengthAdjust="spacingAndGlyphs" fill="#231f20" stroke="#231f20" stroke-width="0.16" >60</text>
<line x1="211.30" y1="282.66" x2="214.50" y2="282.66" stroke="#231f20" stroke-width="0.9" />
<text x="208.90" y="285.56" font-size="8.21" text-anchor="end" textLength="8.0" lengthAdjust="spacingAndGlyphs" fill="#231f20" stroke="#231f20" stroke-width="0.16" >80</text>
<line x1="211.30" y1="258.00" x2="214.50" y2="258.00" stroke="#231f20" stroke-width="0.9" />
<text x="208.90" y="260.90" font-size="8.21" text-anchor="end" textLength="12.0" lengthAdjust="spacingAndGlyphs" fill="#231f20" stroke="#231f20" stroke-width="0.16" >100</text>
<rect x="216.95" y="372.90" width="7.35" height="8.40" fill="#4a6185" stroke="#3b5175" stroke-width="0.45"/>
<rect x="224.30" y="372.90" width="7.60" height="8.40" fill="#9f3347" stroke="#8d2438" stroke-width="0.45"/>
<rect x="234.22" y="372.90" width="7.35" height="8.40" fill="#4a6185" stroke="#3b5175" stroke-width="0.45"/>
<rect x="241.57" y="363.00" width="7.60" height="18.30" fill="#9f3347" stroke="#8d2438" stroke-width="0.45"/>
<rect x="251.49" y="372.30" width="7.35" height="9.00" fill="#4a6185" stroke="#3b5175" stroke-width="0.45"/>
<rect x="258.84" y="362.40" width="7.60" height="18.90" fill="#9f3347" stroke="#8d2438" stroke-width="0.45"/>
<rect x="268.76" y="368.00" width="7.35" height="13.30" fill="#4a6185" stroke="#3b5175" stroke-width="0.45"/>
<rect x="276.11" y="358.80" width="7.60" height="22.50" fill="#9f3347" stroke="#8d2438" stroke-width="0.45"/>
<rect x="286.03" y="360.30" width="7.35" height="21.00" fill="#4a6185" stroke="#3b5175" stroke-width="0.45"/>
<rect x="293.38" y="345.20" width="7.60" height="36.10" fill="#9f3347" stroke="#8d2438" stroke-width="0.45"/>
<rect x="303.30" y="344.10" width="7.35" height="37.20" fill="#4a6185" stroke="#3b5175" stroke-width="0.45"/>
<rect x="310.65" y="315.60" width="7.60" height="65.70" fill="#9f3347" stroke="#8d2438" stroke-width="0.45"/>
<rect x="320.57" y="317.00" width="7.35" height="64.30" fill="#4a6185" stroke="#3b5175" stroke-width="0.45"/>
<rect x="327.92" y="295.50" width="7.60" height="85.80" fill="#9f3347" stroke="#8d2438" stroke-width="0.45"/>
<line x1="214.05" y1="381.45" x2="337.80" y2="381.45" stroke="#231f20" stroke-width="1.25" />
<line x1="224.30" y1="381.30" x2="224.30" y2="384.70" stroke="#231f20" stroke-width="1.1" />
<text transform="translate(228.00,391.30) rotate(-45)" font-size="8.3" textLength="11.40" lengthAdjust="spacingAndGlyphs" text-anchor="end" fill="#231f20" stroke="#231f20" stroke-width="0.16">CO</text>
<line x1="241.57" y1="381.30" x2="241.57" y2="384.70" stroke="#231f20" stroke-width="1.1" />
<text transform="translate(245.27,391.30) rotate(-45)" font-size="8.3" textLength="8.45" lengthAdjust="spacingAndGlyphs" text-anchor="end" fill="#231f20" stroke="#231f20" stroke-width="0.16">20</text>
<line x1="258.84" y1="381.30" x2="258.84" y2="384.70" stroke="#231f20" stroke-width="1.1" />
<text transform="translate(262.54,391.30) rotate(-45)" font-size="8.3" textLength="8.45" lengthAdjust="spacingAndGlyphs" text-anchor="end" fill="#231f20" stroke="#231f20" stroke-width="0.16">50</text>
<line x1="276.11" y1="381.30" x2="276.11" y2="384.70" stroke="#231f20" stroke-width="1.1" />
<text transform="translate(279.81,391.30) rotate(-45)" font-size="8.3" textLength="12.68" lengthAdjust="spacingAndGlyphs" text-anchor="end" fill="#231f20" stroke="#231f20" stroke-width="0.16">100</text>
<line x1="293.38" y1="381.30" x2="293.38" y2="384.70" stroke="#231f20" stroke-width="1.1" />
<text transform="translate(297.08,391.30) rotate(-45)" font-size="8.3" textLength="12.68" lengthAdjust="spacingAndGlyphs" text-anchor="end" fill="#231f20" stroke="#231f20" stroke-width="0.16">200</text>
<line x1="310.65" y1="381.30" x2="310.65" y2="384.70" stroke="#231f20" stroke-width="1.1" />
<text transform="translate(314.35,391.30) rotate(-45)" font-size="8.3" textLength="12.68" lengthAdjust="spacingAndGlyphs" text-anchor="end" fill="#231f20" stroke="#231f20" stroke-width="0.16">500</text>
<line x1="327.92" y1="381.30" x2="327.92" y2="384.70" stroke="#231f20" stroke-width="1.1" />
<text transform="translate(331.62,391.30) rotate(-45)" font-size="8.3" textLength="16.91" lengthAdjust="spacingAndGlyphs" text-anchor="end" fill="#231f20" stroke="#231f20" stroke-width="0.16">1000</text>
<rect x="218.10" y="259.00" width="7.80" height="7.60" fill="#4a6185" stroke="#3b5175" stroke-width="0.5"/>
<rect x="218.10" y="270.90" width="7.80" height="7.70" fill="#9f3347" stroke="#8d2438" stroke-width="0.5"/>
<text x="229.50" y="265.70" font-size="8.32" text-anchor="start" textLength="17.7" lengthAdjust="spacingAndGlyphs" fill="#231f20" stroke="#231f20" stroke-width="0.16" >Day 4</text>
<text x="229.50" y="277.30" font-size="8.32" text-anchor="start" textLength="17.7" lengthAdjust="spacingAndGlyphs" fill="#231f20" stroke="#231f20" stroke-width="0.16" >Day 5</text>
<text transform="translate(189.00,318.00) rotate(-90)" font-size="10.0" text-anchor="middle" textLength="77.7" lengthAdjust="spacingAndGlyphs" fill="#231f20" stroke="#231f20" stroke-width="0.16">Apoptotic cells (%)</text>
<line x1="385.80" y1="255.40" x2="385.80" y2="381.80" stroke="#231f20" stroke-width="0.9" />
<line x1="382.60" y1="381.30" x2="385.80" y2="381.30" stroke="#231f20" stroke-width="0.9" />
<text x="380.20" y="384.20" font-size="8.21" text-anchor="end" textLength="4.0" lengthAdjust="spacingAndGlyphs" fill="#231f20" stroke="#231f20" stroke-width="0.16" >0</text>
<line x1="382.60" y1="356.64" x2="385.80" y2="356.64" stroke="#231f20" stroke-width="0.9" />
<text x="380.20" y="359.54" font-size="8.21" text-anchor="end" textLength="8.0" lengthAdjust="spacingAndGlyphs" fill="#231f20" stroke="#231f20" stroke-width="0.16" >20</text>
<line x1="382.60" y1="331.98" x2="385.80" y2="331.98" stroke="#231f20" stroke-width="0.9" />
<text x="380.20" y="334.88" font-size="8.21" text-anchor="end" textLength="8.0" lengthAdjust="spacingAndGlyphs" fill="#231f20" stroke="#231f20" stroke-width="0.16" >40</text>
<line x1="382.60" y1="307.32" x2="385.80" y2="307.32" stroke="#231f20" stroke-width="0.9" />
<text x="380.20" y="310.22" font-size="8.21" text-anchor="end" textLength="8.0" lengthAdjust="spacingAndGlyphs" fill="#231f20" stroke="#231f20" stroke-width="0.16" >60</text>
<line x1="382.60" y1="282.66" x2="385.80" y2="282.66" stroke="#231f20" stroke-width="0.9" />
<text x="380.20" y="285.56" font-size="8.21" text-anchor="end" textLength="8.0" lengthAdjust="spacingAndGlyphs" fill="#231f20" stroke="#231f20" stroke-width="0.16" >80</text>
<line x1="382.60" y1="258.00" x2="385.80" y2="258.00" stroke="#231f20" stroke-width="0.9" />
<text x="380.20" y="260.90" font-size="8.21" text-anchor="end" textLength="12.0" lengthAdjust="spacingAndGlyphs" fill="#231f20" stroke="#231f20" stroke-width="0.16" >100</text>
<rect x="388.25" y="374.50" width="7.35" height="6.80" fill="#4a6185" stroke="#3b5175" stroke-width="0.45"/>
<rect x="395.60" y="378.20" width="7.60" height="3.10" fill="#9f3347" stroke="#8d2438" stroke-width="0.45"/>
<rect x="405.52" y="372.80" width="7.35" height="8.50" fill="#4a6185" stroke="#3b5175" stroke-width="0.45"/>
<rect x="412.87" y="375.90" width="7.60" height="5.40" fill="#9f3347" stroke="#8d2438" stroke-width="0.45"/>
<rect x="422.79" y="373.10" width="7.35" height="8.20" fill="#4a6185" stroke="#3b5175" stroke-width="0.45"/>
<rect x="430.14" y="373.70" width="7.60" height="7.60" fill="#9f3347" stroke="#8d2438" stroke-width="0.45"/>
<rect x="440.06" y="369.40" width="7.35" height="11.90" fill="#4a6185" stroke="#3b5175" stroke-width="0.45"/>
<rect x="447.41" y="373.70" width="7.60" height="7.60" fill="#9f3347" stroke="#8d2438" stroke-width="0.45"/>
<rect x="457.33" y="354.90" width="7.35" height="26.40" fill="#4a6185" stroke="#3b5175" stroke-width="0.45"/>
<rect x="464.68" y="360.40" width="7.60" height="20.90" fill="#9f3347" stroke="#8d2438" stroke-width="0.45"/>
<rect x="474.60" y="330.10" width="7.35" height="51.20" fill="#4a6185" stroke="#3b5175" stroke-width="0.45"/>
<rect x="481.95" y="330.70" width="7.60" height="50.60" fill="#9f3347" stroke="#8d2438" stroke-width="0.45"/>
<rect x="491.87" y="302.90" width="7.35" height="78.40" fill="#4a6185" stroke="#3b5175" stroke-width="0.45"/>
<rect x="499.22" y="300.50" width="7.60" height="80.80" fill="#9f3347" stroke="#8d2438" stroke-width="0.45"/>
<line x1="385.35" y1="381.45" x2="509.10" y2="381.45" stroke="#231f20" stroke-width="1.25" />
<line x1="395.60" y1="381.30" x2="395.60" y2="384.70" stroke="#231f20" stroke-width="1.1" />
<text transform="translate(399.30,391.30) rotate(-45)" font-size="8.3" textLength="11.40" lengthAdjust="spacingAndGlyphs" text-anchor="end" fill="#231f20" stroke="#231f20" stroke-width="0.16">CO</text>
<line x1="412.87" y1="381.30" x2="412.87" y2="384.70" stroke="#231f20" stroke-width="1.1" />
<text transform="translate(416.57,391.30) rotate(-45)" font-size="8.3" textLength="8.45" lengthAdjust="spacingAndGlyphs" text-anchor="end" fill="#231f20" stroke="#231f20" stroke-width="0.16">20</text>
<line x1="430.14" y1="381.30" x2="430.14" y2="384.70" stroke="#231f20" stroke-width="1.1" />
<text transform="translate(433.84,391.30) rotate(-45)" font-size="8.3" textLength="8.45" lengthAdjust="spacingAndGlyphs" text-anchor="end" fill="#231f20" stroke="#231f20" stroke-width="0.16">50</text>
<line x1="447.41" y1="381.30" x2="447.41" y2="384.70" stroke="#231f20" stroke-width="1.1" />
<text transform="translate(451.11,391.30) rotate(-45)" font-size="8.3" textLength="12.68" lengthAdjust="spacingAndGlyphs" text-anchor="end" fill="#231f20" stroke="#231f20" stroke-width="0.16">100</text>
<line x1="464.68" y1="381.30" x2="464.68" y2="384.70" stroke="#231f20" stroke-width="1.1" />
<text transform="translate(468.38,391.30) rotate(-45)" font-size="8.3" textLength="12.68" lengthAdjust="spacingAndGlyphs" text-anchor="end" fill="#231f20" stroke="#231f20" stroke-width="0.16">200</text>
<line x1="481.95" y1="381.30" x2="481.95" y2="384.70" stroke="#231f20" stroke-width="1.1" />
<text transform="translate(485.65,391.30) rotate(-45)" font-size="8.3" textLength="12.68" lengthAdjust="spacingAndGlyphs" text-anchor="end" fill="#231f20" stroke="#231f20" stroke-width="0.16">500</text>
<line x1="499.22" y1="381.30" x2="499.22" y2="384.70" stroke="#231f20" stroke-width="1.1" />
<text transform="translate(502.92,391.30) rotate(-45)" font-size="8.3" textLength="16.91" lengthAdjust="spacingAndGlyphs" text-anchor="end" fill="#231f20" stroke="#231f20" stroke-width="0.16">1000</text>
<rect x="389.40" y="259.00" width="7.80" height="7.60" fill="#4a6185" stroke="#3b5175" stroke-width="0.5"/>
<rect x="389.40" y="270.90" width="7.80" height="7.70" fill="#9f3347" stroke="#8d2438" stroke-width="0.5"/>
<text x="400.80" y="265.70" font-size="8.32" text-anchor="start" textLength="17.7" lengthAdjust="spacingAndGlyphs" fill="#231f20" stroke="#231f20" stroke-width="0.16" >Day 4</text>
<text x="400.80" y="277.30" font-size="8.32" text-anchor="start" textLength="17.7" lengthAdjust="spacingAndGlyphs" fill="#231f20" stroke="#231f20" stroke-width="0.16" >Day 5</text>
<text transform="translate(360.30,318.00) rotate(-90)" font-size="10.0" text-anchor="middle" textLength="77.7" lengthAdjust="spacingAndGlyphs" fill="#231f20" stroke="#231f20" stroke-width="0.16">Apoptotic cells (%)</text>
<line x1="42.70" y1="448.40" x2="42.70" y2="574.80" stroke="#231f20" stroke-width="0.9" />
<line x1="39.50" y1="574.30" x2="42.70" y2="574.30" stroke="#231f20" stroke-width="0.9" />
<text x="37.10" y="577.20" font-size="8.21" text-anchor="end" textLength="4.0" lengthAdjust="spacingAndGlyphs" fill="#231f20" stroke="#231f20" stroke-width="0.16" >0</text>
<line x1="39.50" y1="549.64" x2="42.70" y2="549.64" stroke="#231f20" stroke-width="0.9" />
<text x="37.10" y="552.54" font-size="8.21" text-anchor="end" textLength="8.0" lengthAdjust="spacingAndGlyphs" fill="#231f20" stroke="#231f20" stroke-width="0.16" >20</text>
<line x1="39.50" y1="524.98" x2="42.70" y2="524.98" stroke="#231f20" stroke-width="0.9" />
<text x="37.10" y="527.88" font-size="8.21" text-anchor="end" textLength="8.0" lengthAdjust="spacingAndGlyphs" fill="#231f20" stroke="#231f20" stroke-width="0.16" >40</text>
<line x1="39.50" y1="500.32" x2="42.70" y2="500.32" stroke="#231f20" stroke-width="0.9" />
<text x="37.10" y="503.22" font-size="8.21" text-anchor="end" textLength="8.0" lengthAdjust="spacingAndGlyphs" fill="#231f20" stroke="#231f20" stroke-width="0.16" >60</text>
<line x1="39.50" y1="475.66" x2="42.70" y2="475.66" stroke="#231f20" stroke-width="0.9" />
<text x="37.10" y="478.56" font-size="8.21" text-anchor="end" textLength="8.0" lengthAdjust="spacingAndGlyphs" fill="#231f20" stroke="#231f20" stroke-width="0.16" >80</text>
<line x1="39.50" y1="451.00" x2="42.70" y2="451.00" stroke="#231f20" stroke-width="0.9" />
<text x="37.10" y="453.90" font-size="8.21" text-anchor="end" textLength="12.0" lengthAdjust="spacingAndGlyphs" fill="#231f20" stroke="#231f20" stroke-width="0.16" >100</text>
<rect x="45.15" y="558.20" width="7.35" height="16.10" fill="#4a6185" stroke="#3b5175" stroke-width="0.45"/>
<rect x="52.50" y="558.70" width="7.60" height="15.60" fill="#9f3347" stroke="#8d2438" stroke-width="0.45"/>
<rect x="62.42" y="562.00" width="7.35" height="12.30" fill="#4a6185" stroke="#3b5175" stroke-width="0.45"/>
<rect x="69.77" y="560.40" width="7.60" height="13.90" fill="#9f3347" stroke="#8d2438" stroke-width="0.45"/>
<rect x="79.69" y="561.10" width="7.35" height="13.20" fill="#4a6185" stroke="#3b5175" stroke-width="0.45"/>
<rect x="87.04" y="561.30" width="7.60" height="13.00" fill="#9f3347" stroke="#8d2438" stroke-width="0.45"/>
<rect x="96.96" y="561.10" width="7.35" height="13.20" fill="#4a6185" stroke="#3b5175" stroke-width="0.45"/>
<rect x="104.31" y="554.30" width="7.60" height="20.00" fill="#9f3347" stroke="#8d2438" stroke-width="0.45"/>
<rect x="114.23" y="553.70" width="7.35" height="20.60" fill="#4a6185" stroke="#3b5175" stroke-width="0.45"/>
<rect x="121.58" y="560.30" width="7.60" height="14.00" fill="#9f3347" stroke="#8d2438" stroke-width="0.45"/>
<rect x="131.50" y="546.80" width="7.35" height="27.50" fill="#4a6185" stroke="#3b5175" stroke-width="0.45"/>
<rect x="138.85" y="517.00" width="7.60" height="57.30" fill="#9f3347" stroke="#8d2438" stroke-width="0.45"/>
<rect x="148.77" y="494.80" width="7.35" height="79.50" fill="#4a6185" stroke="#3b5175" stroke-width="0.45"/>
<rect x="156.12" y="480.90" width="7.60" height="93.40" fill="#9f3347" stroke="#8d2438" stroke-width="0.45"/>
<line x1="42.25" y1="574.45" x2="166.00" y2="574.45" stroke="#231f20" stroke-width="1.25" />
<line x1="52.50" y1="574.30" x2="52.50" y2="577.70" stroke="#231f20" stroke-width="1.1" />
<text x="52.50" y="588.20" font-size="8.21" text-anchor="middle" textLength="4.23" lengthAdjust="spacingAndGlyphs" fill="#231f20" stroke="#231f20" stroke-width="0.16" >0</text>
<line x1="69.77" y1="574.30" x2="69.77" y2="577.70" stroke="#231f20" stroke-width="1.1" />
<text x="69.77" y="588.20" font-size="8.21" text-anchor="middle" textLength="10.57" lengthAdjust="spacingAndGlyphs" fill="#231f20" stroke="#231f20" stroke-width="0.16" >0.5</text>
<line x1="87.04" y1="574.30" x2="87.04" y2="577.70" stroke="#231f20" stroke-width="1.1" />
<text x="87.04" y="588.20" font-size="8.21" text-anchor="middle" textLength="4.23" lengthAdjust="spacingAndGlyphs" fill="#231f20" stroke="#231f20" stroke-width="0.16" >1</text>
<line x1="104.31" y1="574.30" x2="104.31" y2="577.70" stroke="#231f20" stroke-width="1.1" />
<text x="104.31" y="588.20" font-size="8.21" text-anchor="middle" textLength="4.23" lengthAdjust="spacingAndGlyphs" fill="#231f20" stroke="#231f20" stroke-width="0.16" >2</text>
<line x1="121.58" y1="574.30" x2="121.58" y2="577.70" stroke="#231f20" stroke-width="1.1" />
<text x="121.58" y="588.20" font-size="8.21" text-anchor="middle" textLength="8.45" lengthAdjust="spacingAndGlyphs" fill="#231f20" stroke="#231f20" stroke-width="0.16" >20</text>
<line x1="138.85" y1="574.30" x2="138.85" y2="577.70" stroke="#231f20" stroke-width="1.1" />
<text x="138.85" y="588.20" font-size="8.21" text-anchor="middle" textLength="8.45" lengthAdjust="spacingAndGlyphs" fill="#231f20" stroke="#231f20" stroke-width="0.16" >50</text>
<line x1="156.12" y1="574.30" x2="156.12" y2="577.70" stroke="#231f20" stroke-width="1.1" />
<text x="156.12" y="588.20" font-size="8.21" text-anchor="middle" textLength="12.68" lengthAdjust="spacingAndGlyphs" fill="#231f20" stroke="#231f20" stroke-width="0.16" >100</text>
<rect x="46.30" y="452.00" width="7.80" height="7.60" fill="#4a6185" stroke="#3b5175" stroke-width="0.5"/>
<rect x="46.30" y="463.90" width="7.80" height="7.70" fill="#9f3347" stroke="#8d2438" stroke-width="0.5"/>
<text x="57.70" y="458.70" font-size="8.32" text-anchor="start" textLength="17.7" lengthAdjust="spacingAndGlyphs" fill="#231f20" stroke="#231f20" stroke-width="0.16" >Day 4</text>
<text x="57.70" y="470.30" font-size="8.32" text-anchor="start" textLength="17.7" lengthAdjust="spacingAndGlyphs" fill="#231f20" stroke="#231f20" stroke-width="0.16" >Day 5</text>
<text transform="translate(17.20,511.00) rotate(-90)" font-size="10.0" text-anchor="middle" textLength="77.7" lengthAdjust="spacingAndGlyphs" fill="#231f20" stroke="#231f20" stroke-width="0.16">Apoptotic cells (%)</text>
<line x1="214.50" y1="448.40" x2="214.50" y2="574.80" stroke="#231f20" stroke-width="0.9" />
<line x1="211.30" y1="574.30" x2="214.50" y2="574.30" stroke="#231f20" stroke-width="0.9" />
<text x="208.90" y="577.20" font-size="8.21" text-anchor="end" textLength="4.0" lengthAdjust="spacingAndGlyphs" fill="#231f20" stroke="#231f20" stroke-width="0.16" >0</text>
<line x1="211.30" y1="549.64" x2="214.50" y2="549.64" stroke="#231f20" stroke-width="0.9" />
<text x="208.90" y="552.54" font-size="8.21" text-anchor="end" textLength="8.0" lengthAdjust="spacingAndGlyphs" fill="#231f20" stroke="#231f20" stroke-width="0.16" >20</text>
<line x1="211.30" y1="524.98" x2="214.50" y2="524.98" stroke="#231f20" stroke-width="0.9" />
<text x="208.90" y="527.88" font-size="8.21" text-anchor="end" textLength="8.0" lengthAdjust="spacingAndGlyphs" fill="#231f20" stroke="#231f20" stroke-width="0.16" >40</text>
<line x1="211.30" y1="500.32" x2="214.50" y2="500.32" stroke="#231f20" stroke-width="0.9" />
<text x="208.90" y="503.22" font-size="8.21" text-anchor="end" textLength="8.0" lengthAdjust="spacingAndGlyphs" fill="#231f20" stroke="#231f20" stroke-width="0.16" >60</text>
<line x1="211.30" y1="475.66" x2="214.50" y2="475.66" stroke="#231f20" stroke-width="0.9" />
<text x="208.90" y="478.56" font-size="8.21" text-anchor="end" textLength="8.0" lengthAdjust="spacingAndGlyphs" fill="#231f20" stroke="#231f20" stroke-width="0.16" >80</text>
<line x1="211.30" y1="451.00" x2="214.50" y2="451.00" stroke="#231f20" stroke-width="0.9" />
<text x="208.90" y="453.90" font-size="8.21" text-anchor="end" textLength="12.0" lengthAdjust="spacingAndGlyphs" fill="#231f20" stroke="#231f20" stroke-width="0.16" >100</text>
<rect x="216.95" y="566.30" width="7.35" height="8.00" fill="#4a6185" stroke="#3b5175" stroke-width="0.45"/>
<rect x="224.30" y="566.30" width="7.60" height="8.00" fill="#9f3347" stroke="#8d2438" stroke-width="0.45"/>
<rect x="234.22" y="566.90" width="7.35" height="7.40" fill="#4a6185" stroke="#3b5175" stroke-width="0.45"/>
<rect x="241.57" y="565.30" width="7.60" height="9.00" fill="#9f3347" stroke="#8d2438" stroke-width="0.45"/>
<rect x="251.49" y="562.30" width="7.35" height="12.00" fill="#4a6185" stroke="#3b5175" stroke-width="0.45"/>
<rect x="258.84" y="554.80" width="7.60" height="19.50" fill="#9f3347" stroke="#8d2438" stroke-width="0.45"/>
<rect x="268.76" y="558.00" width="7.35" height="16.30" fill="#4a6185" stroke="#3b5175" stroke-width="0.45"/>
<rect x="276.11" y="539.90" width="7.60" height="34.40" fill="#9f3347" stroke="#8d2438" stroke-width="0.45"/>
<rect x="286.03" y="540.30" width="7.35" height="34.00" fill="#4a6185" stroke="#3b5175" stroke-width="0.45"/>
<rect x="293.38" y="509.80" width="7.60" height="64.50" fill="#9f3347" stroke="#8d2438" stroke-width="0.45"/>
<rect x="303.30" y="512.80" width="7.35" height="61.50" fill="#4a6185" stroke="#3b5175" stroke-width="0.45"/>
<rect x="310.65" y="491.70" width="7.60" height="82.60" fill="#9f3347" stroke="#8d2438" stroke-width="0.45"/>
<rect x="320.57" y="515.60" width="7.35" height="58.70" fill="#4a6185" stroke="#3b5175" stroke-width="0.45"/>
<rect x="327.92" y="489.40" width="7.60" height="84.90" fill="#9f3347" stroke="#8d2438" stroke-width="0.45"/>
<line x1="214.05" y1="574.45" x2="337.80" y2="574.45" stroke="#231f20" stroke-width="1.25" />
<line x1="224.30" y1="574.30" x2="224.30" y2="577.70" stroke="#231f20" stroke-width="1.1" />
<text transform="translate(228.00,584.30) rotate(-45)" font-size="8.3" textLength="11.40" lengthAdjust="spacingAndGlyphs" text-anchor="end" fill="#231f20" stroke="#231f20" stroke-width="0.16">CO</text>
<line x1="241.57" y1="574.30" x2="241.57" y2="577.70" stroke="#231f20" stroke-width="1.1" />
<text transform="translate(245.27,584.30) rotate(-45)" font-size="8.3" textLength="8.45" lengthAdjust="spacingAndGlyphs" text-anchor="end" fill="#231f20" stroke="#231f20" stroke-width="0.16">20</text>
<line x1="258.84" y1="574.30" x2="258.84" y2="577.70" stroke="#231f20" stroke-width="1.1" />
<text transform="translate(262.54,584.30) rotate(-45)" font-size="8.3" textLength="8.45" lengthAdjust="spacingAndGlyphs" text-anchor="end" fill="#231f20" stroke="#231f20" stroke-width="0.16">50</text>
<line x1="276.11" y1="574.30" x2="276.11" y2="577.70" stroke="#231f20" stroke-width="1.1" />
<text transform="translate(279.81,584.30) rotate(-45)" font-size="8.3" textLength="12.68" lengthAdjust="spacingAndGlyphs" text-anchor="end" fill="#231f20" stroke="#231f20" stroke-width="0.16">100</text>
<line x1="293.38" y1="574.30" x2="293.38" y2="577.70" stroke="#231f20" stroke-width="1.1" />
<text transform="translate(297.08,584.30) rotate(-45)" font-size="8.3" textLength="12.68" lengthAdjust="spacingAndGlyphs" text-anchor="end" fill="#231f20" stroke="#231f20" stroke-width="0.16">200</text>
<line x1="310.65" y1="574.30" x2="310.65" y2="577.70" stroke="#231f20" stroke-width="1.1" />
<text transform="translate(314.35,584.30) rotate(-45)" font-size="8.3" textLength="12.68" lengthAdjust="spacingAndGlyphs" text-anchor="end" fill="#231f20" stroke="#231f20" stroke-width="0.16">500</text>
<line x1="327.92" y1="574.30" x2="327.92" y2="577.70" stroke="#231f20" stroke-width="1.1" />
<text transform="translate(331.62,584.30) rotate(-45)" font-size="8.3" textLength="16.91" lengthAdjust="spacingAndGlyphs" text-anchor="end" fill="#231f20" stroke="#231f20" stroke-width="0.16">1000</text>
<rect x="218.10" y="452.00" width="7.80" height="7.60" fill="#4a6185" stroke="#3b5175" stroke-width="0.5"/>
<rect x="218.10" y="463.90" width="7.80" height="7.70" fill="#9f3347" stroke="#8d2438" stroke-width="0.5"/>
<text x="229.50" y="458.70" font-size="8.32" text-anchor="start" textLength="17.7" lengthAdjust="spacingAndGlyphs" fill="#231f20" stroke="#231f20" stroke-width="0.16" >Day 4</text>
<text x="229.50" y="470.30" font-size="8.32" text-anchor="start" textLength="17.7" lengthAdjust="spacingAndGlyphs" fill="#231f20" stroke="#231f20" stroke-width="0.16" >Day 5</text>
<text transform="translate(189.00,511.00) rotate(-90)" font-size="10.0" text-anchor="middle" textLength="77.7" lengthAdjust="spacingAndGlyphs" fill="#231f20" stroke="#231f20" stroke-width="0.16">Apoptotic cells (%)</text>
<line x1="385.80" y1="448.40" x2="385.80" y2="574.80" stroke="#231f20" stroke-width="0.9" />
<line x1="382.60" y1="574.30" x2="385.80" y2="574.30" stroke="#231f20" stroke-width="0.9" />
<text x="380.20" y="577.20" font-size="8.21" text-anchor="end" textLength="4.0" lengthAdjust="spacingAndGlyphs" fill="#231f20" stroke="#231f20" stroke-width="0.16" >0</text>
<line x1="382.60" y1="549.64" x2="385.80" y2="549.64" stroke="#231f20" stroke-width="0.9" />
<text x="380.20" y="552.54" font-size="8.21" text-anchor="end" textLength="8.0" lengthAdjust="spacingAndGlyphs" fill="#231f20" stroke="#231f20" stroke-width="0.16" >20</text>
<line x1="382.60" y1="524.98" x2="385.80" y2="524.98" stroke="#231f20" stroke-width="0.9" />
<text x="380.20" y="527.88" font-size="8.21" text-anchor="end" textLength="8.0" lengthAdjust="spacingAndGlyphs" fill="#231f20" stroke="#231f20" stroke-width="0.16" >40</text>
<line x1="382.60" y1="500.32" x2="385.80" y2="500.32" stroke="#231f20" stroke-width="0.9" />
<text x="380.20" y="503.22" font-size="8.21" text-anchor="end" textLength="8.0" lengthAdjust="spacingAndGlyphs" fill="#231f20" stroke="#231f20" stroke-width="0.16" >60</text>
<line x1="382.60" y1="475.66" x2="385.80" y2="475.66" stroke="#231f20" stroke-width="0.9" />
<text x="380.20" y="478.56" font-size="8.21" text-anchor="end" textLength="8.0" lengthAdjust="spacingAndGlyphs" fill="#231f20" stroke="#231f20" stroke-width="0.16" >80</text>
<line x1="382.60" y1="451.00" x2="385.80" y2="451.00" stroke="#231f20" stroke-width="0.9" />
<text x="380.20" y="453.90" font-size="8.21" text-anchor="end" textLength="12.0" lengthAdjust="spacingAndGlyphs" fill="#231f20" stroke="#231f20" stroke-width="0.16" >100</text>
<rect x="388.25" y="567.80" width="7.35" height="6.50" fill="#4a6185" stroke="#3b5175" stroke-width="0.45"/>
<rect x="395.60" y="571.10" width="7.60" height="3.20" fill="#9f3347" stroke="#8d2438" stroke-width="0.45"/>
<rect x="405.52" y="566.70" width="7.35" height="7.60" fill="#4a6185" stroke="#3b5175" stroke-width="0.45"/>
<rect x="412.87" y="569.80" width="7.60" height="4.50" fill="#9f3347" stroke="#8d2438" stroke-width="0.45"/>
<rect x="422.79" y="561.70" width="7.35" height="12.60" fill="#4a6185" stroke="#3b5175" stroke-width="0.45"/>
<rect x="430.14" y="564.70" width="7.60" height="9.60" fill="#9f3347" stroke="#8d2438" stroke-width="0.45"/>
<rect x="440.06" y="553.60" width="7.35" height="20.70" fill="#4a6185" stroke="#3b5175" stroke-width="0.45"/>
<rect x="447.41" y="557.30" width="7.60" height="17.00" fill="#9f3347" stroke="#8d2438" stroke-width="0.45"/>
<rect x="457.33" y="530.30" width="7.35" height="44.00" fill="#4a6185" stroke="#3b5175" stroke-width="0.45"/>
<rect x="464.68" y="534.30" width="7.60" height="40.00" fill="#9f3347" stroke="#8d2438" stroke-width="0.45"/>
<rect x="474.60" y="506.20" width="7.35" height="68.10" fill="#4a6185" stroke="#3b5175" stroke-width="0.45"/>
<rect x="481.95" y="494.10" width="7.60" height="80.20" fill="#9f3347" stroke="#8d2438" stroke-width="0.45"/>
<rect x="491.87" y="486.30" width="7.35" height="88.00" fill="#4a6185" stroke="#3b5175" stroke-width="0.45"/>
<rect x="499.22" y="482.70" width="7.60" height="91.60" fill="#9f3347" stroke="#8d2438" stroke-width="0.45"/>
<line x1="385.35" y1="574.45" x2="509.10" y2="574.45" stroke="#231f20" stroke-width="1.25" />
<line x1="395.60" y1="574.30" x2="395.60" y2="577.70" stroke="#231f20" stroke-width="1.1" />
<text transform="translate(399.30,584.30) rotate(-45)" font-size="8.3" textLength="11.40" lengthAdjust="spacingAndGlyphs" text-anchor="end" fill="#231f20" stroke="#231f20" stroke-width="0.16">CO</text>
<line x1="412.87" y1="574.30" x2="412.87" y2="577.70" stroke="#231f20" stroke-width="1.1" />
<text transform="translate(416.57,584.30) rotate(-45)" font-size="8.3" textLength="8.45" lengthAdjust="spacingAndGlyphs" text-anchor="end" fill="#231f20" stroke="#231f20" stroke-width="0.16">20</text>
<line x1="430.14" y1="574.30" x2="430.14" y2="577.70" stroke="#231f20" stroke-width="1.1" />
<text transform="translate(433.84,584.30) rotate(-45)" font-size="8.3" textLength="8.45" lengthAdjust="spacingAndGlyphs" text-anchor="end" fill="#231f20" stroke="#231f20" stroke-width="0.16">50</text>
<line x1="447.41" y1="574.30" x2="447.41" y2="577.70" stroke="#231f20" stroke-width="1.1" />
<text transform="translate(451.11,584.30) rotate(-45)" font-size="8.3" textLength="12.68" lengthAdjust="spacingAndGlyphs" text-anchor="end" fill="#231f20" stroke="#231f20" stroke-width="0.16">100</text>
<line x1="464.68" y1="574.30" x2="464.68" y2="577.70" stroke="#231f20" stroke-width="1.1" />
<text transform="translate(468.38,584.30) rotate(-45)" font-size="8.3" textLength="12.68" lengthAdjust="spacingAndGlyphs" text-anchor="end" fill="#231f20" stroke="#231f20" stroke-width="0.16">200</text>
<line x1="481.95" y1="574.30" x2="481.95" y2="577.70" stroke="#231f20" stroke-width="1.1" />
<text transform="translate(485.65,584.30) rotate(-45)" font-size="8.3" textLength="12.68" lengthAdjust="spacingAndGlyphs" text-anchor="end" fill="#231f20" stroke="#231f20" stroke-width="0.16">500</text>
<line x1="499.22" y1="574.30" x2="499.22" y2="577.70" stroke="#231f20" stroke-width="1.1" />
<text transform="translate(502.92,584.30) rotate(-45)" font-size="8.3" textLength="16.91" lengthAdjust="spacingAndGlyphs" text-anchor="end" fill="#231f20" stroke="#231f20" stroke-width="0.16">1000</text>
<rect x="389.40" y="452.00" width="7.80" height="7.60" fill="#4a6185" stroke="#3b5175" stroke-width="0.5"/>
<rect x="389.40" y="463.90" width="7.80" height="7.70" fill="#9f3347" stroke="#8d2438" stroke-width="0.5"/>
<text x="400.80" y="458.70" font-size="8.32" text-anchor="start" textLength="17.7" lengthAdjust="spacingAndGlyphs" fill="#231f20" stroke="#231f20" stroke-width="0.16" >Day 4</text>
<text x="400.80" y="470.30" font-size="8.32" text-anchor="start" textLength="17.7" lengthAdjust="spacingAndGlyphs" fill="#231f20" stroke="#231f20" stroke-width="0.16" >Day 5</text>
<text transform="translate(360.30,511.00) rotate(-90)" font-size="10.0" text-anchor="middle" textLength="77.7" lengthAdjust="spacingAndGlyphs" fill="#231f20" stroke="#231f20" stroke-width="0.16">Apoptotic cells (%)</text>
<text x="66.60" y="249.20" font-size="9.61" text-anchor="start" textLength="21.4" lengthAdjust="spacingAndGlyphs" fill="#231f20" stroke="#231f20" stroke-width="0.16" >ROSA</text>
<text x="88.60" y="246.20" font-size="7.45" text-anchor="start" textLength="55.0" lengthAdjust="spacingAndGlyphs" fill="#231f20" stroke="#231f20" stroke-width="0.16" >KIT D816V GLUC</text>
<text x="66.60" y="441.70" font-size="9.61" text-anchor="start" textLength="21.4" lengthAdjust="spacingAndGlyphs" fill="#231f20" stroke="#231f20" stroke-width="0.16" >ROSA</text>
<text x="88.60" y="438.70" font-size="7.45" text-anchor="start" textLength="55.0" lengthAdjust="spacingAndGlyphs" fill="#231f20" stroke="#231f20" stroke-width="0.16" >KIT D816V GLUC</text>
<text x="242.30" y="235.10" font-size="10.15" text-anchor="start" textLength="67.5" lengthAdjust="spacingAndGlyphs" fill="#231f20" stroke="#231f20" stroke-width="0.16" >AGS-16C3F (nM)</text>
<text x="258.20" y="249.70" font-size="10.15" text-anchor="start" textLength="34.9" lengthAdjust="spacingAndGlyphs" fill="#231f20" stroke="#231f20" stroke-width="0.16" >HMC-1.1</text>
<text x="429.80" y="249.60" font-size="10.15" text-anchor="start" textLength="35.2" lengthAdjust="spacingAndGlyphs" fill="#231f20" stroke="#231f20" stroke-width="0.16" >HMC-1.2</text>
<text x="238.80" y="428.50" font-size="10.15" text-anchor="start" textLength="74.3" lengthAdjust="spacingAndGlyphs" fill="#231f20" stroke="#231f20" stroke-width="0.16" >Control ADC (nM)</text>
<text x="258.10" y="441.90" font-size="10.15" text-anchor="start" textLength="34.6" lengthAdjust="spacingAndGlyphs" fill="#231f20" stroke="#231f20" stroke-width="0.16" >HMC-1.1</text>
<text x="429.80" y="442.80" font-size="10.15" text-anchor="start" textLength="35.2" lengthAdjust="spacingAndGlyphs" fill="#231f20" stroke="#231f20" stroke-width="0.16" >HMC-1.2</text>
<rect x="0" y="0" width="520" height="1.1" fill="#111"/>
<rect x="0" y="0" width="1.6" height="605" fill="#555"/>
<rect x="518.1" y="0" width="1.9" height="605" fill="#4a4a4a"/>
<rect x="0" y="603.1" width="520" height="1.9" fill="#4a4a4a"/>
</svg>
</body></html>
